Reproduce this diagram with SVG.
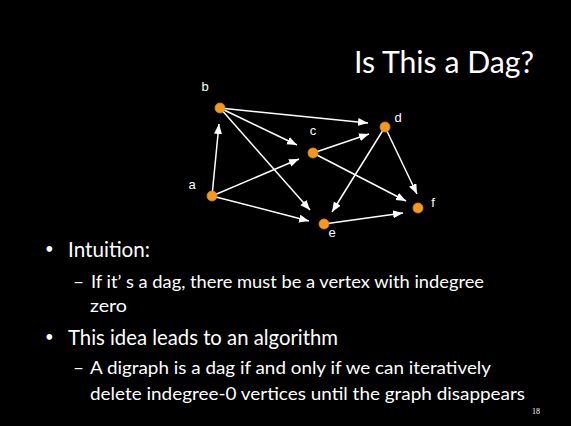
<svg xmlns="http://www.w3.org/2000/svg" width="571" height="426" viewBox="0 0 571 426">
<style>
.edge{stroke:#fff;stroke-width:1.5;fill:none}
.node{fill:#F39A1E;stroke:#E08A10;stroke-width:0.8}
.lbl{font-family:"Liberation Sans",Arial,sans-serif;font-size:13px;fill:#fff;text-anchor:middle}
.txt{font-family:Lato,"Open Sans",sans-serif;fill:#fff}
</style>
<defs>
<marker id="ah" markerUnits="userSpaceOnUse" markerWidth="11" markerHeight="9" refX="10" refY="4" orient="auto">
<path d="M0,0 L10,4 L0,8 z" fill="#fff"/>
</marker>
</defs>
<rect width="571" height="426" fill="#000"/>
<text class="txt" x="354" y="73" font-size="31" textLength="180" lengthAdjust="spacingAndGlyphs">Is This a Dag?</text>
<g id="connectors">
<line class="edge" x1="212" y1="196" x2="219" y2="124" marker-end="url(#ah)"/>
<line class="edge" x1="212" y1="196" x2="299" y2="159" marker-end="url(#ah)"/>
<line class="edge" x1="212" y1="196" x2="309" y2="221" marker-end="url(#ah)"/>
<line class="edge" x1="220" y1="108" x2="297" y2="145" marker-end="url(#ah)"/>
<line class="edge" x1="220" y1="108" x2="368" y2="123" marker-end="url(#ah)"/>
<line class="edge" x1="220" y1="108" x2="310" y2="210" marker-end="url(#ah)"/>
<line class="edge" x1="313" y1="153" x2="369" y2="134" marker-end="url(#ah)"/>
<line class="edge" x1="313" y1="153" x2="406" y2="201" marker-end="url(#ah)"/>
<line class="edge" x1="385" y1="127" x2="332" y2="212" marker-end="url(#ah)"/>
<line class="edge" x1="385" y1="127" x2="417" y2="194" marker-end="url(#ah)"/>
<line class="edge" x1="324" y1="224" x2="403" y2="213" marker-end="url(#ah)"/>
</g>
<g id="a"><circle class="node" cx="212" cy="196" r="5"/><text class="lbl" x="192" y="189">a</text></g>
<g id="b"><circle class="node" cx="220" cy="108" r="5"/><text class="lbl" x="205" y="91">b</text></g>
<g id="c"><circle class="node" cx="313" cy="153" r="5"/><text class="lbl" x="313" y="135">c</text></g>
<g id="d"><circle class="node" cx="385" cy="127" r="5"/><text class="lbl" x="398" y="122">d</text></g>
<g id="e"><circle class="node" cx="324" cy="224" r="5"/><text class="lbl" x="332" y="237">e</text></g>
<g id="f"><circle class="node" cx="418" cy="208" r="5"/><text class="lbl" x="433" y="207">f</text></g>
<text class="txt" x="45" y="254" font-size="15">•</text>
<text class="txt" x="68" y="257" font-size="22" textLength="82" lengthAdjust="spacingAndGlyphs">Intuition:</text>
<text class="txt" x="73" y="288" font-size="18" textLength="11" lengthAdjust="spacingAndGlyphs">–</text>
<text class="txt" x="91" y="288" font-size="18" textLength="393" lengthAdjust="spacingAndGlyphs">If it’ s a dag, there must be a vertex with indegree</text>
<text class="txt" x="90" y="312" font-size="18" textLength="37" lengthAdjust="spacingAndGlyphs">zero</text>
<text class="txt" x="45" y="342" font-size="15">•</text>
<text class="txt" x="68" y="345" font-size="22" textLength="270" lengthAdjust="spacingAndGlyphs">This idea leads to an algorithm</text>
<text class="txt" x="73" y="374" font-size="18" textLength="11" lengthAdjust="spacingAndGlyphs">–</text>
<text class="txt" x="90" y="374" font-size="18" textLength="401" lengthAdjust="spacingAndGlyphs">A digraph is a dag if and only if we can iteratively</text>
<text class="txt" x="90" y="400" font-size="18" textLength="435" lengthAdjust="spacingAndGlyphs">delete indegree-0 vertices until the graph disappears</text>
<text x="532" y="414" font-family="Liberation Serif,serif" font-size="8" fill="#fff">18</text>
</svg>
